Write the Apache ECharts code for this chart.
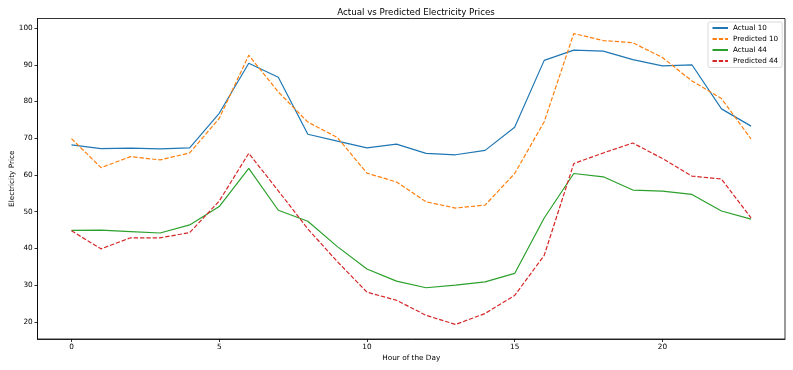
<!DOCTYPE html>
<html>
<head>
<meta charset="utf-8">
<title>Actual vs Predicted Electricity Prices</title>
<script src="https://cdn.jsdelivr.net/npm/echarts@6/dist/echarts.min.js"></script>
<style>
    html, body { margin: 0; padding: 0; background: #fff; }
    #chart { width: 793px; height: 370px; }
</style>
</head>
<body>
<div id="chart"></div>
<script>
// 数据
var hours = [0, 1, 2, 3, 4, 5, 6, 7, 8, 9, 10, 11, 12, 13, 14, 15, 16, 17, 18, 19, 20, 21, 22, 23];
var actual10 = [68.2, 67.2, 67.3, 67.1, 67.4, 76.8, 90.4, 86.6, 71.1, 69.2, 67.4, 68.4, 65.9, 65.5, 66.7, 73.0, 91.2, 94.0, 93.7, 91.4, 89.7, 90.0, 78.0, 73.3];
var predicted10 = [69.9, 62.0, 65.0, 64.1, 66.0, 75.4, 92.6, 82.6, 74.4, 70.2, 60.5, 58.1, 52.7, 51.0, 51.8, 60.4, 74.5, 98.5, 96.6, 96.0, 92.0, 85.6, 80.8, 69.8];
var actual44 = [44.9, 45.0, 44.6, 44.2, 46.4, 51.4, 61.8, 50.4, 47.4, 40.5, 34.4, 31.1, 29.3, 30.0, 30.9, 33.2, 48.3, 60.4, 59.5, 55.9, 55.6, 54.7, 50.2, 48.0];
var predicted44 = [44.8, 39.9, 42.9, 42.9, 44.3, 52.9, 65.9, 55.7, 45.3, 36.4, 28.1, 25.9, 21.8, 19.3, 22.3, 27.2, 38.1, 63.1, 66.0, 68.7, 64.5, 59.7, 58.9, 48.3];
var xTicks = [0, 5, 10, 15, 20];
var yTicks = [20, 30, 40, 50, 60, 70, 80, 90, 100];

var font = 'DejaVu Sans';
var tab = ['#1f77b4', '#ff7f0e', '#2ca02c', '#d62728'];

function pairs(values) {
    return hours.map(function(h, i) { return [h, values[i]]; });
}

function lineSeries(name, values, color, dashed) {
    return {
        name: name,
        type: 'line',
        data: pairs(values),
        symbol: 'none',
        smooth: false,
        animation: false,
        lineStyle: {
            color: color,
            width: 1.2,
            type: dashed ? [4.4, 1.9] : 'solid'
        },
        itemStyle: { color: color }
    };
}

var axisCommon = {
    axisLine: { show: true, onZero: false, lineStyle: { color: '#000', width: 0.8 } },
    axisTick: { show: true, inside: false, length: 3, lineStyle: { color: '#000', width: 0.8 } },
    splitLine: { show: false },
    nameMoveOverlap: false,
    nameTextStyle: { fontFamily: font, fontSize: 7.3, color: '#000' }
};

var option = {
    backgroundColor: '#fff',
    animation: false,
    title: {
        text: 'Actual vs Predicted Electricity Prices',
        left: 411,
        top: 3.5,
        textAlign: 'center',
        textStyle: { fontFamily: font, fontSize: 8.7, fontWeight: 'normal', color: '#000' }
    },
    legend: {
        orient: 'vertical',
        left: 708,
        top: 22,
        itemWidth: 15.5,
        itemHeight: 7,
        itemGap: 2,
        padding: [1.5, 4, 2, 3.5],
        borderColor: '#d0d0d0',
        borderWidth: 0.8,
        borderRadius: 2,
        backgroundColor: 'rgba(255,255,255,0.8)',
        itemStyle: { opacity: 0 },
        textStyle: { fontFamily: font, fontSize: 7.2, color: '#000', lineHeight: 9, padding: [0, 0, 0, 0] },
        data: ['Actual 10', 'Predicted 10', 'Actual 44', 'Predicted 44']
    },
    grid: {
        left: 37.5,
        right: 8,
        top: 18.5,
        bottom: 31,
        show: true,
        borderColor: '#000',
        borderWidth: 0.8,
        containLabel: false,
        outerBoundsMode: 'none'
    },
    xAxis: Object.assign({}, axisCommon, {
        type: 'value',
        min: -1.15,
        max: 24.15,
        name: 'Hour of the Day',
        nameLocation: 'middle',
        nameGap: 16,
        axisTick: Object.assign({}, axisCommon.axisTick, { customValues: xTicks }),
        axisLabel: { customValues: xTicks, margin: 4.5, fontFamily: font, fontSize: 7.3, color: '#000' }
    }),
    yAxis: Object.assign({}, axisCommon, {
        type: 'value',
        min: 15.35,
        max: 102.6,
        name: 'Electricity Price',
        nameLocation: 'middle',
        nameGap: 22,
        axisTick: Object.assign({}, axisCommon.axisTick, { customValues: yTicks }),
        axisLabel: { customValues: yTicks, margin: 4.8, fontFamily: font, fontSize: 7.3, color: '#000' }
    }),
    series: [
        lineSeries('Actual 10', actual10, tab[0], false),
        lineSeries('Predicted 10', predicted10, tab[1], true),
        lineSeries('Actual 44', actual44, tab[2], false),
        lineSeries('Predicted 44', predicted44, tab[3], true)
    ]
};

var myChart = echarts.init(document.getElementById('chart'), null, { renderer: 'canvas' });
myChart.setOption(option);
</script>
</body>
</html>
